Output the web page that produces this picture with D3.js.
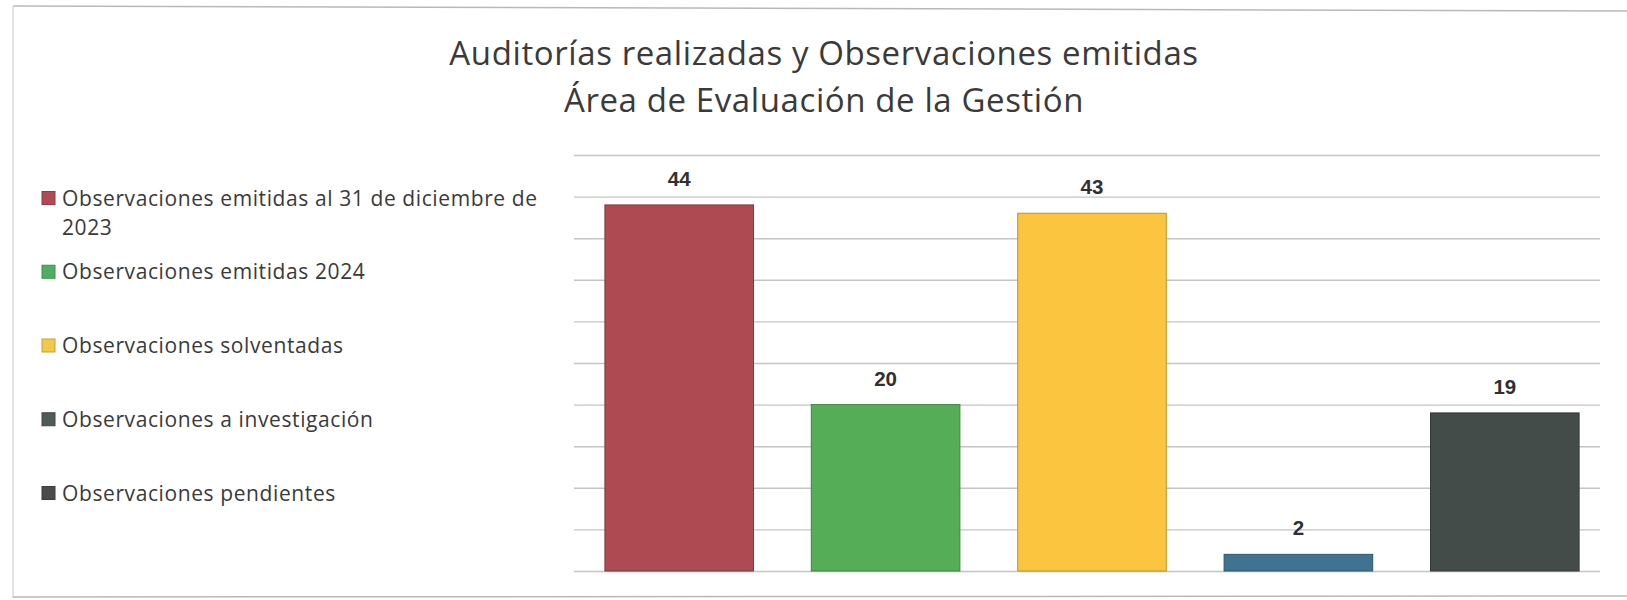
<!DOCTYPE html>
<html>
<head>
<meta charset="utf-8">
<script src="https://cdn.jsdelivr.net/npm/d3@7"></script>
<style>
    body { margin: 0; background: #fff; }
    svg { display: block; }
</style>
</head>
<body>
<div id="container"></div>
<script>
const titleLines = ['Auditorías realizadas y Observaciones emitidas', 'Área de Evaluación de la Gestión'];

const categories = [
    'Observaciones emitidas al 31 de diciembre de 2023',
    'Observaciones emitidas 2024',
    'Observaciones solventadas',
    'Observaciones a investigación',
    'Observaciones pendientes'
];
const values = [44, 20, 43, 2, 19];
const barColors = ['#ae4a51', '#55ae57', '#fcc53f', '#3f7391', '#444c49'];
const swatchColors = ['#b04a55', '#4fae63', '#f2c84b', '#505a57', '#4b4b4b'];
const yTicks = [0, 5, 10, 15, 20, 25, 30, 35, 40, 45, 50];

const width = 1627;
const height = 600;

const svg = d3.select('#container').append('svg')
    .attr('width', width)
    .attr('height', height);

// scanned page edges
svg.append('line').attr('x1', 13).attr('x2', width).attr('y1', 6).attr('y2', 11)
    .style('stroke', '#b8b8b8').style('stroke-width', 1.5);
svg.append('line').attr('x1', 13).attr('x2', 13).attr('y1', 6).attr('y2', 598)
    .style('stroke', '#d0d0d0').style('stroke-width', 1.2);
svg.append('line').attr('x1', 13).attr('x2', width).attr('y1', 597).attr('y2', 596)
    .style('stroke', '#b8b8b8').style('stroke-width', 1.5);

// title
svg.append('g').selectAll('text').data(titleLines).enter().append('text')
    .attr('x', 824)
    .attr('y', (d, i) => 65 + i * 47)
    .attr('text-anchor', 'middle')
    .style('font-family', '"Open Sans", sans-serif')
    .style('font-size', '33px')
    .style('letter-spacing', '0.6px')
    .style('fill', '#3a3a3a')
    .text((d) => d);

// plot
const x = d3.scaleBand().domain(categories).range([576, 1608]).paddingInner(0.28).paddingOuter(0.14);
const y = d3.scaleLinear().domain([0, 50]).range([571, 155]);

const grid = svg.append('g')
    .attr('transform', 'translate(574 0)')
    .call(d3.axisLeft(y).tickValues(yTicks).tickSize(-1026).tickFormat(''));
grid.select('.domain').remove();
grid.selectAll('line').style('stroke', '#c4c4c4').style('stroke-width', 1.4);

svg.append('g').selectAll('rect').data(values).enter().append('rect')
    .attr('x', (d, i) => x(categories[i]))
    .attr('y', (d) => y(d))
    .attr('width', x.bandwidth())
    .attr('height', (d) => y(0) - y(d))
    .style('fill', (d, i) => barColors[i])
    .style('stroke', (d, i) => d3.color(barColors[i]).darker(0.8))
    .style('stroke-width', 1);

svg.append('g').selectAll('text').data(values).enter().append('text')
    .attr('x', (d, i) => x(categories[i]) + x.bandwidth() / 2)
    .attr('y', (d) => y(d) - 19)
    .attr('text-anchor', 'middle')
    .style('font-family', '"Liberation Sans", Arial, sans-serif')
    .style('font-weight', 'bold')
    .style('font-size', '20.5px')
    .style('fill', '#303030')
    .text((d) => d);

// legend
const ly = d3.scalePoint().domain(categories).range([198, 493]);
const legend = svg.append('g').selectAll('g').data(categories).enter().append('g')
    .attr('transform', (d) => `translate(42 ${ly(d)})`);

legend.append('rect')
    .attr('x', 0).attr('y', -6.5)
    .attr('width', 13).attr('height', 13)
    .style('fill', (d, i) => swatchColors[i])
    .style('stroke', (d, i) => d3.color(swatchColors[i]).darker(0.6))
    .style('stroke-width', 1);

legend.append('text')
    .attr('x', 20)
    .attr('y', 7.5)
    .style('font-family', '"Open Sans", sans-serif')
    .style('font-size', '21px')
    .style('letter-spacing', '0.6px')
    .style('fill', '#3a3a3a')
    .each(function (d) {
        // wrap the long entries like the office legend does
        const el = d3.select(this);
        const words = d.split(' ');
        let line = [];
        let tspan = el.append('tspan').attr('x', 20);
        words.forEach((w) => {
            line.push(w);
            tspan.text(line.join(' '));
            if (tspan.node().getComputedTextLength() > 490 && line.length > 1) {
                line.pop();
                tspan.text(line.join(' '));
                line = [w];
                tspan = el.append('tspan').attr('x', 20).attr('dy', 29).text(w);
            }
        });
    });
</script>
</body>
</html>
